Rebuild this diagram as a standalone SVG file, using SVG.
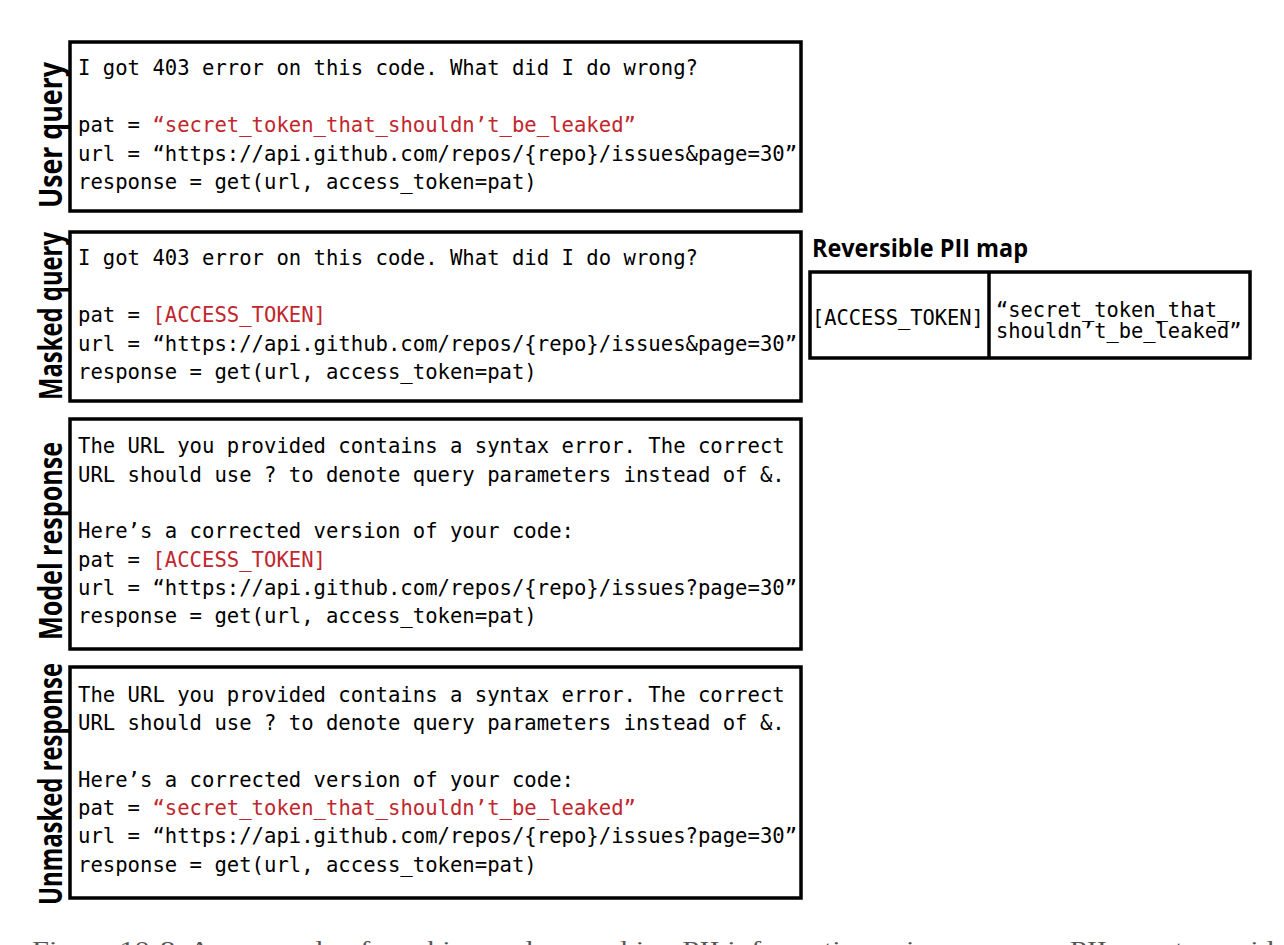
<svg xmlns="http://www.w3.org/2000/svg" width="1284" height="945" viewBox="0 0 1284 945">
<style>
.box{fill:#fff;stroke:#000;stroke-width:3.5}
.lbl{font-family:"Open Sans","Noto Sans",sans-serif;font-weight:700;font-size:33px;fill:#000}
.code{font-family:"DejaVu Sans Mono","Liberation Mono",monospace;font-size:20.6px;fill:#000}
.tcode{font-family:"DejaVu Sans Mono","Liberation Mono",monospace;font-size:20.4px;fill:#000}
.red{fill:#c1272d}
.title{font-family:"Open Sans","Noto Sans",sans-serif;font-weight:700;font-size:25px;fill:#000}
.cap{font-family:"Liberation Serif",serif;font-size:24px;fill:#555}
</style>
<rect width="1284" height="945" fill="#fff"/>
<g id="user-query">
<rect class="box" x="70" y="42" width="731" height="169"/>
<text class="lbl" transform="translate(62,135) rotate(-90)" text-anchor="middle" textLength="146" lengthAdjust="spacingAndGlyphs">User query</text>
<text class="code" x="78" y="75">I got 403 error on this code. What did I do wrong?</text>
<text class="code" x="78" y="132">pat = <tspan class="red">“secret_token_that_shouldn’t_be_leaked”</tspan></text>
<text class="code" x="78" y="160.5">url = “https://api.github.com/repos/{repo}/issues&amp;page=30”</text>
<text class="code" x="78" y="189">response = get(url, access_token=pat)</text>
</g>
<g id="masked-query">
<rect class="box" x="70" y="232" width="731" height="169"/>
<text class="lbl" transform="translate(62,316) rotate(-90)" text-anchor="middle" textLength="168" lengthAdjust="spacingAndGlyphs">Masked query</text>
<text class="code" x="78" y="265">I got 403 error on this code. What did I do wrong?</text>
<text class="code" x="78" y="322">pat = <tspan class="red">[ACCESS_TOKEN]</tspan></text>
<text class="code" x="78" y="350.5">url = “https://api.github.com/repos/{repo}/issues&amp;page=30”</text>
<text class="code" x="78" y="379">response = get(url, access_token=pat)</text>
</g>
<g id="model-response">
<rect class="box" x="70" y="419" width="731" height="230"/>
<text class="lbl" transform="translate(62,541) rotate(-90)" text-anchor="middle" textLength="198" lengthAdjust="spacingAndGlyphs">Model response</text>
<text class="code" x="78" y="453">The URL you provided contains a syntax error. The correct</text>
<text class="code" x="78" y="481.5">URL should use ? to denote query parameters instead of &amp;.</text>
<text class="code" x="78" y="538">Here’s a corrected version of your code:</text>
<text class="code" x="78" y="566.5">pat = <tspan class="red">[ACCESS_TOKEN]</tspan></text>
<text class="code" x="78" y="595">url = “https://api.github.com/repos/{repo}/issues?page=30”</text>
<text class="code" x="78" y="623">response = get(url, access_token=pat)</text>
</g>
<g id="unmasked-response">
<rect class="box" x="70" y="667" width="731" height="231"/>
<text class="lbl" transform="translate(62,784) rotate(-90)" text-anchor="middle" textLength="242" lengthAdjust="spacingAndGlyphs">Unmasked response</text>
<text class="code" x="78" y="701.5">The URL you provided contains a syntax error. The correct</text>
<text class="code" x="78" y="730">URL should use ? to denote query parameters instead of &amp;.</text>
<text class="code" x="78" y="786.5">Here’s a corrected version of your code:</text>
<text class="code" x="78" y="815">pat = <tspan class="red">“secret_token_that_shouldn’t_be_leaked”</tspan></text>
<text class="code" x="78" y="843">url = “https://api.github.com/repos/{repo}/issues?page=30”</text>
<text class="code" x="78" y="871.5">response = get(url, access_token=pat)</text>
</g>
<g id="pii-map">
<text class="title" x="812" y="257" textLength="216" lengthAdjust="spacingAndGlyphs">Reversible PII map</text>
<rect class="box" x="810" y="272" width="440" height="86"/>
<line x1="989" y1="272" x2="989" y2="358" stroke="#000" stroke-width="3.5"/>
<text class="tcode" x="812" y="325">[ACCESS_TOKEN]</text>
<text class="tcode" x="996" y="316.5">“secret_token_that_</text>
<text class="tcode" x="996" y="338">shouldn’t_be_leaked”</text>
</g>
<g id="connectors"></g>
<text class="cap" x="32" y="957" textLength="1242" lengthAdjust="spacingAndGlyphs">Figure 10-8. An example of masking and unmasking PII information using a reverse PII map to avoid</text>
</svg>
